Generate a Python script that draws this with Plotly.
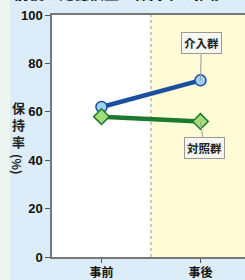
import plotly.graph_objects as go

categories = ["事前", "事後"]
intervention = [62, 73]
control = [58, 56]
y_ticks = [0, 20, 40, 60, 80, 100]

JP = "Noto Sans CJK JP"
NUM = "Liberation Sans"

fig = go.Figure()

fig.add_trace(go.Scatter(
    x=categories, y=intervention, mode="lines+markers", name="介入群",
    line=dict(color="#1a4fa0", width=4.5),
    marker=dict(symbol="circle", size=11, color="#9fd0f5", line=dict(color="#1a4fa0", width=1.5)),
    cliponaxis=False,
))
fig.add_trace(go.Scatter(
    x=categories, y=control, mode="lines+markers", name="対照群",
    line=dict(color="#1b7a2c", width=4.5),
    marker=dict(symbol="diamond", size=12, color="#a5dc7a", line=dict(color="#1b7a2c", width=1.5)),
    cliponaxis=False,
))

shapes = [
    dict(type="rect", xref="paper", yref="paper", x0=-52/193, x1=-42/193, y0=-1, y1=2,
         fillcolor="#eef6f1", line=dict(width=0), layer="below"),
    dict(type="rect", xref="x", yref="y", x0=-0.5, x1=0.5, y0=0, y1=100,
         fillcolor="#ffffff", line=dict(width=0), layer="below"),
    dict(type="rect", xref="x", yref="y", x0=0.5, x1=1.6, y0=0, y1=100,
         fillcolor="#fffbd4", line=dict(width=0), layer="below"),
    dict(type="line", xref="x", yref="y", x0=0.5, x1=0.5, y0=0, y1=100,
         line=dict(color="#9a9a8a", width=1, dash="dot"), layer="below"),
]

annotations = [
    dict(text="介入群", x=categories[1], y=intervention[1], xref="x", yref="y",
         ax=1, ay=-37, axref="pixel", ayref="pixel",
         showarrow=True, arrowhead=0, arrowwidth=1, arrowcolor="#999999", standoff=0,
         font=dict(family=JP, size=11.5, color="#222222", weight="bold"),
         bgcolor="#f7f7f2", bordercolor="#999999", borderwidth=1, borderpad=2),
    dict(text="対照群", x=categories[1], y=control[1], xref="x", yref="y",
         ax=4, ay=27, axref="pixel", ayref="pixel",
         showarrow=True, arrowhead=0, arrowwidth=1, arrowcolor="#999999", standoff=0,
         font=dict(family=JP, size=11.5, color="#222222", weight="bold"),
         bgcolor="#f7f7f2", bordercolor="#999999", borderwidth=1, borderpad=2),
    dict(text="保<br>持<br>率", x=-34/193, y=0.5, xref="paper", yref="paper",
         xanchor="center", yanchor="middle", yshift=12, showarrow=False,
         font=dict(family=JP, size=13, color="#222222", weight="bold")),
    dict(text="(%)", x=-34/193, y=0.5, xref="paper", yref="paper",
         xanchor="center", yanchor="middle", yshift=-28, textangle=90, showarrow=False,
         font=dict(family=JP, size=12, color="#222222", weight="bold")),
    dict(text="前後の記憶検査の保持率の推移", x=-40/193, y=1.0, xref="paper", yref="paper",
         xanchor="left", yanchor="bottom", yshift=10, showarrow=False,
         font=dict(family=JP, size=15, color="#111111", weight="bold")),
]

fig.update_layout(
    width=245, height=280,
    margin=dict(l=52, r=0, t=15, b=23),
    paper_bgcolor="#dcecf8",
    plot_bgcolor="#fffbd4",
    showlegend=False,
    shapes=shapes,
    annotations=annotations,
    xaxis=dict(
        type="category", range=[-0.5, 1.45],
        showgrid=False, zeroline=False,
        showline=True, linecolor="#777777", linewidth=1.5, mirror=True,
        ticks="outside", ticklen=4, tickcolor="#555555",
        tickfont=dict(family=JP, size=12, color="#111111", weight="bold"),
        fixedrange=True,
    ),
    yaxis=dict(
        range=[0, 100], tickvals=y_ticks,
        showgrid=False, zeroline=False,
        showline=True, linecolor="#777777", linewidth=1.5,
        ticks="outside", ticklen=5, tickcolor="#555555",
        tickfont=dict(family=NUM, size=13, color="#111111", weight="bold"),
        fixedrange=True,
    ),
)

fig.write_html("out.html", config={"displayModeBar": False},
               post_script="document.body.style.margin='0';document.body.style.overflow='hidden';")
